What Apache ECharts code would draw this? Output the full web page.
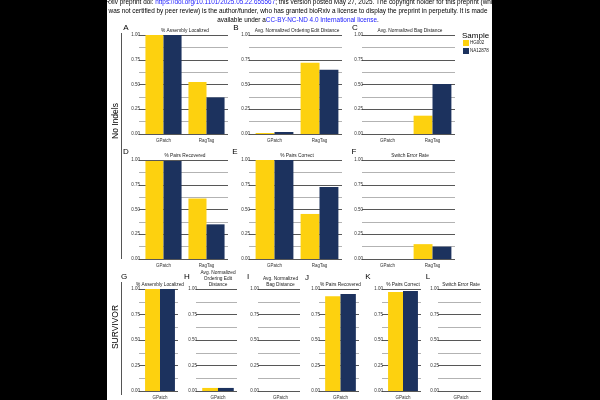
<!DOCTYPE html>
<html><head><meta charset="utf-8">
<script src="https://cdn.jsdelivr.net/npm/echarts@6/dist/echarts.min.js"></script>
<style>html,body{margin:0;padding:0;background:#000}#c{width:600px;height:400px}</style>
</head><body><div id="c"></div>
<script>
// ---- data ----
const categoriesNoIndels = ['GPatch', 'RagTag'];
const categoriesSurvivor = ['GPatch'];
const sampleNames = ['HG002', 'NA12878'];
const panelLetters = ['A','B','C','D','E','F','G','H','I','J','K','L'];
const panelTitles = [
  '% Assembly Localized', 'Avg. Normalized Ordering Edit Distance', 'Avg. Normalized Bag Distance',
  '% Pairs Recovered', '% Pairs Correct', 'Switch Error Rate',
  '% Assembly Localized', 'Avg. Normalized\nOrdering Edit\nDistance', 'Avg. Normalized\nBag Distance',
  '% Pairs Recovered', '% Pairs Correct', 'Switch Error Rate'
];
const hg002Values = [[1.00, 0.525], [0.01, 0.72], [0, 0.185], [0.99, 0.61], [1.00, 0.455], [0, 0.15],
                     [1.00], [0.03], [0], [0.93], [0.97], [0]];
const na12878Values = [[1.00, 0.37], [0.02, 0.65], [0, 0.505], [0.99, 0.35], [1.00, 0.727], [0, 0.125],
                       [1.00], [0.03], [0], [0.95], [0.98], [0]];
const rowLabels = ['No Indels', 'SURVIVOR'];
const yMin = 0, yMax = 1, yInterval = 0.25;

// ---- layout ----
const gridBoxes = [
  [142, 35, 86, 99], [252, 35, 90, 99], [365, 35, 90, 99],
  [142, 160, 86, 99], [252, 160, 90, 99], [365, 160, 90, 99],
  [142, 289, 36, 102], [199, 289, 38, 102], [261, 289, 39, 102],
  [322, 289, 37, 102], [385, 289, 36, 102], [441, 289, 40, 102]
];
const letterPos = [[126, 28], [236, 28], [355, 28], [126, 152], [235, 152], [354, 152],
                   [124, 277], [187, 277], [248, 277], [307, 278], [368, 277], [428, 277]];
const COLORS = ['#FDD10F', '#1C325E'];
const FONT = 'Liberation Sans, Arial, sans-serif';

const grid = [], xAxis = [], yAxis = [], series = [], graphic = [];
gridBoxes.forEach((b, i) => {
  grid.push({left: b[0], top: b[1], width: b[2], height: b[3], containLabel: false});
  xAxis.push({
    type: 'category', gridIndex: i, data: i < 6 ? categoriesNoIndels : categoriesSurvivor,
    axisLine: {show: false}, axisTick: {show: false},
    axisLabel: {fontSize: 4.5, color: '#333', margin: 4, fontFamily: FONT}
  });
  yAxis.push({
    type: 'value', gridIndex: i, min: yMin, max: yMax, interval: yInterval,
    axisLine: {show: false},
    axisTick: {show: true, length: 3, lineStyle: {color: '#444', width: 0.9}},
    minorTick: {show: true, splitNumber: 2, length: 3, lineStyle: {color: '#aaa', width: 0.9}},
    splitLine: {show: true, lineStyle: {color: '#444', width: 0.9}},
    minorSplitLine: {show: true, lineStyle: {color: '#aaa', width: 0.9}},
    axisLabel: {fontSize: 4.5, color: '#333', margin: 2, fontFamily: FONT, formatter: v => v.toFixed(2)}
  });
  const gap = i < 6 ? '16%' : '17%';
  series.push({
    type: 'bar', name: sampleNames[0], xAxisIndex: i, yAxisIndex: i, data: hg002Values[i],
    barGap: 0, barCategoryGap: gap, itemStyle: {color: COLORS[0]}
  });
  series.push({
    type: 'bar', name: sampleNames[1], xAxisIndex: i, yAxisIndex: i, data: na12878Values[i],
    barGap: 0, barCategoryGap: gap, itemStyle: {color: COLORS[1]}
  });
  graphic.push({type: 'text', x: b[0] + b[2] / 2, y: b[1] - 2,
    style: {text: panelTitles[i], fontSize: 4.8, lineHeight: 5.6, fill: '#222', fontFamily: FONT,
            textAlign: 'center', textVerticalAlign: 'bottom'}});
  graphic.push({type: 'text', x: letterPos[i][0], y: letterPos[i][1],
    style: {text: panelLetters[i], fontSize: 8, fill: '#000', fontFamily: FONT,
            textAlign: 'center', textVerticalAlign: 'middle'}});
});

graphic.push({type: 'text', x: 116, y: 121, rotation: Math.PI / 2,
  style: {text: rowLabels[0], fontSize: 8.5, fill: '#000', fontFamily: FONT, textAlign: 'center', textVerticalAlign: 'middle'}});
graphic.push({type: 'line', shape: {x1: 121.5, y1: 33, x2: 121.5, y2: 259}, style: {stroke: '#555', lineWidth: 1}});
graphic.push({type: 'text', x: 116, y: 327, rotation: Math.PI / 2,
  style: {text: rowLabels[1], fontSize: 8.5, fill: '#000', fontFamily: FONT, textAlign: 'center', textVerticalAlign: 'middle'}});
graphic.push({type: 'line', shape: {x1: 121.5, y1: 282, x2: 121.5, y2: 395}, style: {stroke: '#555', lineWidth: 1}});

graphic.push({type: 'text', x: 462, y: 36,
  style: {text: 'Sample', fontSize: 8, fill: '#000', fontFamily: FONT, textAlign: 'left', textVerticalAlign: 'middle'}});

const HF = 6.4;
const rich = {a: {fill: '#000', fontSize: HF, fontFamily: FONT}, b: {fill: '#1a1aff', fontSize: HF, fontFamily: FONT}};
const headerLines = [
  '{a|bioRxiv preprint doi: }{b|https://doi.org/10.1101/2025.05.22.655567}{a|; this version posted May 27, 2025. The copyright holder for this preprint (which}',
  '{a|was not certified by peer review) is the author/funder, who has granted bioRxiv a license to display the preprint in perpetuity. It is made}',
  '{a|available under a}{b|CC-BY-NC-ND 4.0 International license}{a|.}'
];
headerLines.forEach((t, k) => {
  graphic.push({type: 'text', x: 298, y: 2.5 + k * 8.7, z: 1,
    style: {text: t, rich: rich, fontSize: HF, textAlign: 'center', textVerticalAlign: 'middle'}});
});
graphic.push({type: 'rect', shape: {x: 0, y: 0, width: 107, height: 400}, style: {fill: '#000'}, z: 100});
graphic.push({type: 'rect', shape: {x: 492, y: 0, width: 108, height: 400}, style: {fill: '#000'}, z: 100});

const chart = echarts.init(document.getElementById('c'), null, {renderer: 'canvas'});
chart.setOption({
  animation: false,
  backgroundColor: '#fff',
  grid, xAxis, yAxis, series, graphic,
  legend: {
    data: sampleNames, orient: 'vertical', left: 463, top: 40, padding: 0, itemWidth: 6, itemHeight: 6, itemGap: 2,
    icon: 'rect', textStyle: {fontSize: 4.5, color: '#222', fontFamily: FONT, padding: [0, 0, 0, -4]},
    selectedMode: false
  }
});
</script></body></html>
